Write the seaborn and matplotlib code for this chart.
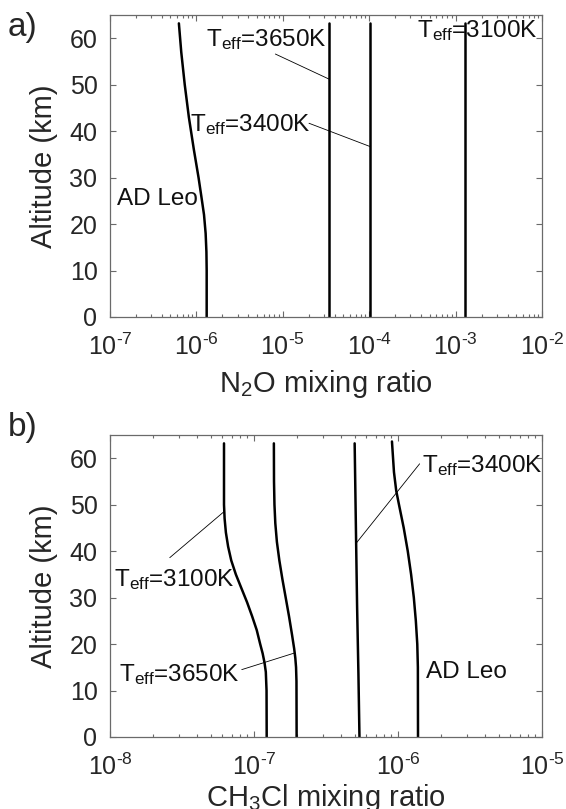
import matplotlib
matplotlib.use("Agg")
import matplotlib.pyplot as plt
from matplotlib.ticker import LogLocator, NullFormatter
import pandas as pd
import seaborn as sns

# ---- N2O profiles (panel a): altitude in km, mixing ratio ----
alt_n2o_adleo = [0, 10, 14, 18, 22, 26, 30, 36, 43, 50, 57, 63.2]
n2o_adleo = [1.315e-6, 1.315e-6, 1.306e-6, 1.279e-6, 1.225e-6, 1.140e-6,
             1.059e-6, 9.35e-7, 8.18e-7, 7.33e-7, 6.68e-7, 6.27e-7]
alt_n2o_const = [0, 63.2]
n2o_3650 = [3.43e-5, 3.43e-5]
n2o_3400 = [1.02e-4, 1.02e-4]
n2o_3100 = [1.28e-3, 1.28e-3]

# ---- CH3Cl profiles (panel b) ----
alt_ch3cl_3100 = [0, 10, 14, 16, 18, 20, 23, 26, 29, 32, 35, 38, 41, 44, 47, 50, 63.2]
ch3cl_3100 = [1.225e-7, 1.222e-7, 1.208e-7, 1.183e-7, 1.148e-7, 1.104e-7,
              1.045e-7, 9.70e-8, 8.95e-8, 8.18e-8, 7.48e-8, 6.95e-8,
              6.61e-8, 6.38e-8, 6.25e-8, 6.19e-8, 6.19e-8]
alt_ch3cl_3650 = [0, 12, 15, 17, 19, 22, 26, 30, 34, 38, 42, 46, 50, 55, 63.2]
ch3cl_3650 = [1.977e-7, 1.972e-7, 1.959e-7, 1.936e-7, 1.901e-7, 1.837e-7,
              1.750e-7, 1.660e-7, 1.574e-7, 1.500e-7, 1.442e-7, 1.406e-7,
              1.387e-7, 1.377e-7, 1.374e-7]
alt_ch3cl_3400 = [0, 13.7, 28.0, 41.7, 63.2]
ch3cl_3400 = [5.40e-7, 5.31e-7, 5.20e-7, 5.12e-7, 5.00e-7]
alt_ch3cl_adleo = [0, 15, 20, 25, 30, 35, 40, 45, 50, 53, 57, 63.6]
ch3cl_adleo = [1.377e-6, 1.374e-6, 1.361e-6, 1.330e-6, 1.288e-6, 1.233e-6,
               1.169e-6, 1.096e-6, 1.016e-6, 9.72e-7, 9.376e-7, 9.08e-7]

# ---- axis ticks ----
alt_ticks = [0, 10, 20, 30, 40, 50, 60]
n2o_ticks = [1e-7, 1e-6, 1e-5, 1e-4, 1e-3, 1e-2]
n2o_exponents = [-7, -6, -5, -4, -3, -2]
ch3cl_ticks = [1e-8, 1e-7, 1e-6, 1e-5]
ch3cl_exponents = [-8, -7, -6, -5]

# ---- labels: (text, x, altitude) with leader lines ((x0, y0), (x1, y1)) ----
teff = r"$\mathregular{T_{eff}}$"
n2o_labels = [(teff + "=3650K", 1.28e-6, 58.2),
              (teff + "=3400K", 8.49e-7, 40.0),
              (teff + "=3100K", 3.59e-4, 60.2),
              ("AD Leo", 1.205e-7, 24.1)]
n2o_leaders = [((8.20e-6, 56.6), (3.43e-5, 51.2)),
               ((2.01e-5, 41.7), (1.02e-4, 36.7))]
ch3cl_labels = [(teff + "=3100K", 1.064e-8, 32.5),
                (teff + "=3650K", 1.164e-8, 12.1),
                (teff + "=3400K", 1.466e-6, 57.1),
                ("AD Leo", 1.57e-6, 12.6)]
ch3cl_leaders = [((2.60e-8, 38.6), (6.19e-8, 48.5)),
                 ((8.22e-8, 14.5), (1.92e-7, 18.1)),
                 ((1.413e-6, 58.8), (5.12e-7, 41.7))]

HYPHEN = "\u2010"


def profiles(entries):
    frames = []
    for name, alt, val in entries:
        frames.append(pd.DataFrame({"star": name, "altitude": alt, "ratio": val}))
    return pd.concat(frames, ignore_index=True)


def power_label(e):
    return r"$\mathregular{10^{" + HYPHEN + str(abs(e)) + "}}$"


df_n2o = profiles([("AD Leo", alt_n2o_adleo, n2o_adleo),
                   ("3650K", alt_n2o_const, n2o_3650),
                   ("3400K", alt_n2o_const, n2o_3400),
                   ("3100K", alt_n2o_const, n2o_3100)])
df_ch3cl = profiles([("3100K", alt_ch3cl_3100, ch3cl_3100),
                     ("3650K", alt_ch3cl_3650, ch3cl_3650),
                     ("3400K", alt_ch3cl_3400, ch3cl_3400),
                     ("AD Leo", alt_ch3cl_adleo, ch3cl_adleo)])

sns.set_theme(style="ticks")
plt.rcParams["font.family"] = ["Liberation Sans", "DejaVu Sans"]
plt.rcParams["mathtext.fontset"] = "custom"
plt.rcParams["mathtext.rm"] = "Liberation Sans"
plt.rcParams["mathtext.it"] = "Liberation Sans:italic"
plt.rcParams["mathtext.bf"] = "Liberation Sans:bold"

fig = plt.figure(figsize=(5.66, 8.09), dpi=100)
W, H = 566.0, 809.0
ax_a = fig.add_axes([110 / W, 1 - 317 / H, 432 / W, 302 / H])
ax_b = fig.add_axes([110 / W, 1 - 737 / H, 432 / W, 302 / H])

spine_col = "#6a6a6a"


def style_axis(ax, df, xlim, ticks, exponents, xlabel, xlabelpad, labels, leaders):
    sns.lineplot(data=df, x="ratio", y="altitude", units="star", estimator=None,
                 sort=False, color="black", linewidth=1.8, ax=ax, legend=False)
    ax.set_xscale("log")
    ax.set_xlim(*xlim)
    ax.set_ylim(0, 65)
    ax.set_xticks(ticks)
    ax.set_xticklabels([power_label(e) for e in exponents])
    ax.xaxis.set_minor_locator(LogLocator(base=10, subs=range(2, 10), numticks=100))
    ax.xaxis.set_minor_formatter(NullFormatter())
    ax.set_yticks(alt_ticks)
    ax.set_yticklabels([str(t) for t in alt_ticks])
    ax.tick_params(axis="both", which="both", direction="in", top=True, right=True,
                   color=spine_col, width=0.8)
    ax.tick_params(axis="both", which="major", length=4.5, labelsize=18)
    ax.tick_params(axis="x", which="major", pad=12)
    ax.tick_params(axis="y", which="major", pad=9)
    ax.tick_params(axis="x", which="minor", length=2.5)
    for sp in ax.spines.values():
        sp.set_color(spine_col)
        sp.set_linewidth(0.9)
    ax.set_xlabel(xlabel, fontsize=21, labelpad=xlabelpad)
    ax.set_ylabel("Altitude (km)", fontsize=21, labelpad=8)
    for (x0, y0), (x1, y1) in leaders:
        ax.plot([x0, x1], [y0, y1], color="black", linewidth=0.6)
    for text, x, y in labels:
        ax.text(x, y, text, fontsize=17.5, ha="left", va="baseline", color="#111111")


style_axis(ax_a, df_n2o, (1e-7, 1e-2), n2o_ticks, n2o_exponents,
           r"N$_2$O mixing ratio", 6, n2o_labels, n2o_leaders)
style_axis(ax_b, df_ch3cl, (1e-8, 1e-5), ch3cl_ticks, ch3cl_exponents,
           r"CH$_3$Cl mixing ratio", 1.5, ch3cl_labels, ch3cl_leaders)

fig.text(8 / W, 1 - 36 / H, "a)", fontsize=24, ha="left", va="baseline")
fig.text(8 / W, 1 - 436 / H, "b)", fontsize=24, ha="left", va="baseline")

fig.savefig("out.png", dpi=100, facecolor="white")
